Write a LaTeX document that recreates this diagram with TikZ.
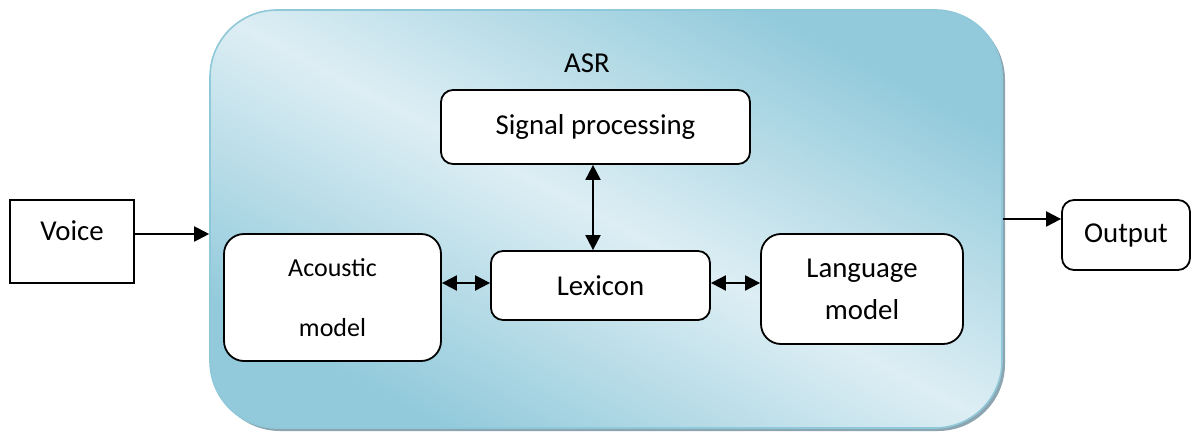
\documentclass[tikz,border=0pt]{standalone}
\usepackage{fontspec}
\setmainfont{Carlito}
\usetikzlibrary{arrows.meta}

\definecolor{asrdark}{HTML}{92CADB}
\definecolor{asrlight}{HTML}{DDEEF4}
\definecolor{asredge}{HTML}{8FC8D9}
\definecolor{asrshadow}{HTML}{8CA5B0}

% mirrored diagonal fill: dark in two opposite corners, light along the other diagonal
\pgfdeclarehorizontalshading{asrfill}{100bp}{color(0bp)=(asrdark); color(25bp)=(asrdark); color(50bp)=(asrlight); color(75bp)=(asrdark); color(100bp)=(asrdark)}

\tikzset{
  txt/.style={font=\fontsize{14.4}{17}\selectfont},
  block/.style={txt, draw, line width=0.9pt, fill=white, rounded corners=6pt,
    inner sep=0pt, align=center},
  tip/.tip={Triangle[length=7.5pt,width=7.5pt]},
  flow/.style={line width=1pt, -tip},
  both/.style={line width=1pt, tip-tip},
}

\begin{document}
\begin{tikzpicture}[x=0.5pt,y=-0.5pt]
  \useasboundingbox[fill=white] (0,0) rectangle (1192,432);

  % ASR container: shadow, gradient fill, outline
  \fill[asrshadow, rounded corners=33.5pt] (213,13) rectangle (1005,431);
  \begin{scope}
    \clip[rounded corners=33.5pt] (210,10) rectangle (1002,428);
    \begin{scope}[transform canvas={shift={(303pt,-109.5pt)}, xscale=3.96, yscale=2.09}]
      \shade[shading=asrfill, shading angle=45] (-50pt,-50pt) rectangle (50pt,50pt);
    \end{scope}
  \end{scope}
  \node[draw=asredge, line width=0.8pt, rounded corners=33.5pt, inner sep=0pt,
        minimum width=396pt, minimum height=209pt] (asr) at (606,219) {};
  \node[txt] (asrlabel) at (587,63) {ASR};

  % outside blocks
  \node[draw, line width=0.9pt, fill=white, minimum width=62pt, minimum height=41.5pt,
        inner sep=0pt, label={[txt, yshift=5.5pt]center:Voice}] (voice) at (72,241.5) {};
  \node[block, minimum width=64pt, minimum height=35pt] (output) at (1126,235) {Output};

  % inner blocks
  \node[block, minimum width=154.5pt, minimum height=37pt] (sig) at (595.5,127) {Signal processing};
  \node[block, minimum width=109.5pt, minimum height=34.5pt] (lex) at (600.5,285.5) {Lexicon};
  \node[block, rounded corners=10pt, minimum width=108.5pt, minimum height=63.5pt,
        font=\fontsize{13}{30}\selectfont] (ac) at (332.5,297.5) {Acoustic\\model};
  \node[block, rounded corners=10pt, minimum width=101pt, minimum height=55pt,
        font=\fontsize{14.4}{21}\selectfont] (lang) at (862,289) {Language\\model};

  % connectors
  \coordinate (vin) at ([yshift=3.75pt]voice.east);
  \draw[flow] (vin) -- (vin -| asr.west);
  \draw[flow] (asr.east) -- (asr.east -| output.west);
  \draw[both] (sig.south -| 593,0) -- (lex.north -| 593,0);
  \coordinate (lexl) at ([yshift=1.25pt]lex.west);
  \coordinate (lexr) at ([yshift=1.25pt]lex.east);
  \draw[both] (lexl -| ac.east) -- (lexl);
  \draw[both] (lexr) -- (lexr -| lang.west);
\end{tikzpicture}
\end{document}
